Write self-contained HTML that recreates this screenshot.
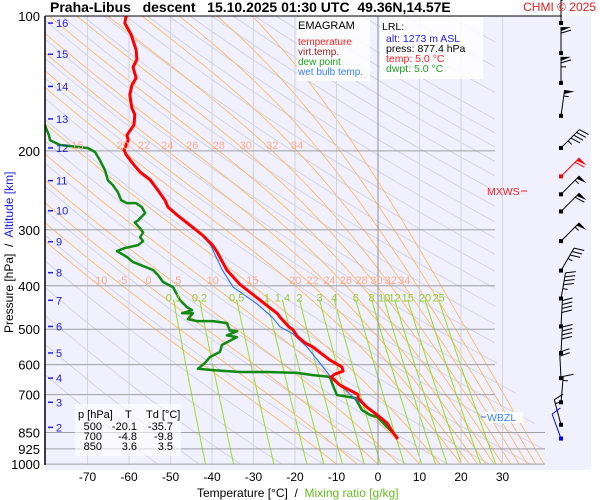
<!DOCTYPE html>
<html><head><meta charset="utf-8">
<style>
html,body{margin:0;padding:0;background:#fff;}
svg{display:block;font-family:"Liberation Sans",Arial,sans-serif;}
</style></head>
<body>
<svg id="chart" width="600" height="500" viewBox="0 0 600 500">
  <defs>
    <clipPath id="plotclip"><polygon points="45,16 495,16 495,360 545,440 545,465 45,465"/></clipPath>
    <clipPath id="dataclip"><rect x="45" y="16" width="500" height="449"/></clipPath>
  </defs>
  <rect x="45" y="16" width="546" height="454" fill="#f0f0ff"/>
  <g id="grid"></g>
  <g id="lines"></g>
  <g id="barbs"></g>
  <g id="labels"></g>

  <text x="50" y="12" font-size="14" font-weight="bold" style="white-space:pre">Praha-Libus   descent   15.10.2025 01:30 UTC  49.36N,14.57E</text>
  <line x1="45" y1="16" x2="562" y2="16" stroke="#000" stroke-width="1"/>
  <text x="596" y="11" font-size="12" fill="#e02020" text-anchor="end">CHMI © 2025</text>
  <line x1="45" y1="16" x2="45" y2="465" stroke="#000" stroke-width="1.5"/>

  <g>
    <rect x="297" y="17" width="73" height="64" fill="#fff" fill-opacity="0.85"/>
    <text x="298" y="29" font-size="11">EMAGRAM</text>
    <text x="298" y="45" font-size="10" fill="#ff2020">temperature</text>
    <text x="298" y="55" font-size="10" fill="#a02020">virt.temp.</text>
    <text x="298" y="65" font-size="10" fill="#20a020">dew point</text>
    <text x="298" y="75" font-size="10" fill="#3a80ff">wet bulb temp.</text>
  </g>
  <g>
    <rect x="380" y="17" width="103" height="62" fill="#fff" fill-opacity="0.85"/>
    <text x="382" y="30" font-size="10.5">LRL:</text>
    <text x="386" y="42" font-size="10.5" fill="#2020e0">alt: 1273 m ASL</text>
    <text x="386" y="52" font-size="10.5" fill="#000">press: 877.4 hPa</text>
    <text x="386" y="62" font-size="10.5" fill="#ff2020">temp: 5.0 °C</text>
    <text x="386" y="72" font-size="10.5" fill="#20a020">dwpt: 5.0 °C</text>
  </g>
  <g>
    <rect x="75" y="404" width="106" height="52" fill="#fff" fill-opacity="0.6"/>
    <text x="78" y="418" font-size="11">p [hPa]</text>
    <text x="125" y="418" font-size="11">T</text>
    <text x="146" y="418" font-size="11">Td [°C]</text>
    <g font-size="11" text-anchor="end">
      <text x="102" y="430">500</text><text x="137" y="430">-20.1</text><text x="173" y="430">-35.7</text>
      <text x="102" y="440">700</text><text x="137" y="440">-4.8</text><text x="173" y="440">-9.8</text>
      <text x="102" y="450">850</text><text x="137" y="450">3.6</text><text x="173" y="450">3.5</text>
    </g>
  </g>
  <g>
    <text x="487" y="195" font-size="10.5" fill="#ff2020">MXWS</text>
    <line x1="521" y1="191" x2="527" y2="191" stroke="#ff2020" stroke-width="1"/>
  </g>
  <g>
    <rect x="485" y="412" width="38" height="11" fill="#fff"/>
    <line x1="481" y1="417" x2="486" y2="417" stroke="#3a80ff"/>
    <text x="487" y="421" font-size="10.5" fill="#3a80ff">WBZL</text>
  </g>

  <text x="197" y="497" font-size="12" style="white-space:pre">Temperature [°C]  /  <tspan fill="#66bb22">Mixing ratio [g/kg]</tspan></text>
  <text transform="translate(13,333) rotate(-90)" font-size="12" style="white-space:pre">Pressure [hPa]  /  <tspan fill="#2020e0">Altitude [km]</tspan></text>
</svg>
<script>
// ---------- data ----------
const tempP = [100,103.7,110,119,125,130,137.5,142.6,150,160.5,166,175,184.5,189,199,204,215,223,232,245,258,267,279,293,309,325,336,369,397,461,470,494,500,518,537,548,586,607,620,630,639,666,690,700,712,746,777,810,850,879];
const tempT = [-60.7,-61,-59.5,-58.3,-58.1,-59,-58.3,-59.3,-59.8,-59.3,-58.6,-58.8,-60.5,-60.2,-61.2,-60.7,-58.8,-57.3,-54.9,-53,-51.3,-50.6,-48.2,-45.3,-42.2,-39.8,-38.8,-36.4,-33.3,-24.3,-23.6,-21.5,-20.6,-19.5,-17.5,-15.7,-11.6,-8.7,-8.4,-10.4,-11.3,-9.2,-6,-4.8,-4.8,-2.7,-0.2,2.2,3.6,4.8];
const dewP = [170,176,184.5,189.3,194,197.1,201.1,209.8,220.6,232.4,238.5,247,257.6,261.5,261.5,267.1,275.2,285.8,288.8,297.9,304.1,311.8,318.1,324.6,329.6,334.7,345.1,354.1,368.9,378.4,392.4,402.7,430.8,446.6,453.5,460.6,460.6,474.8,479.6,479.6,484.6,503.3,505.4,516.3,520.7,542,562,577,595,613,617,623,623,626,633,639,670,701,712,757,777,785,848,870];
const dewT = [-82,-80.2,-79.3,-79,-76.6,-69.9,-68.2,-67,-65.8,-65.1,-63.9,-62.7,-61.9,-60.5,-58.3,-56.9,-56.1,-57.8,-58.6,-57.3,-56.6,-57.3,-56.6,-57.8,-61,-62.9,-60.5,-59,-54.2,-53,-51.8,-49.4,-47.7,-46,-44.8,-47.2,-44.6,-45.8,-43.6,-39.8,-36.4,-35.7,-34,-36.4,-34,-37.6,-38.1,-40.5,-41.7,-43.4,-39.8,-33.3,-26.7,-19.5,-15.7,-11.6,-10.8,-9.9,-5.5,-3.9,-1.9,-0.2,3.4,4.6];
const wbP = [100,103.7,110,119,125,130,137.5,142.6,150,160.5,166,175,184.5,189,199,204,215,223,232,245,258,267,279,293,309,325,336,369,403,440,470,494,512,548,595,636,708,746,777,810,850,879];
const wbT = [-60.7,-61,-59.5,-58.3,-58.1,-59,-58.3,-59.3,-59.8,-59.3,-58.6,-58.8,-60.5,-60.2,-61.2,-60.7,-58.8,-57.3,-54.9,-53,-51.3,-50.6,-48.2,-45.4,-42.4,-40.3,-39.6,-37.5,-34.9,-29,-25.5,-23.6,-20.5,-17.1,-14,-11.6,-6,-2.8,-0.3,2.1,3.5,4.7];
const pTicks = [100,200,300,400,500,600,700,850,925,1000];
const tTicks = [-70,-60,-50,-40,-30,-20,-10,0,10,20,30];
const altKm = [16,15,14,13,12,11,10,9,8,7,6,5,4,3,2];
const altP = [103.7,121.7,143.6,169.7,197,233,272,319,374,431,493,565,643,728,828];
const moistVals = [-10,-5,0,5,10,15,20,22,24,26,28,30,32,34,36,38,40];
const moistLbl400 = [-10,-5,0,5,10,15,20,22,24,26,28,30,32,34];
const moistLbl200 = [15,20,22,24,26,28,30,32,34];
const mixVals = [0.1,0.2,0.5,1,1.4,2,3,4,6,8,10,12,15,20,25];
const dryTheta = [220,230,240,250,260,270,280,290,300,310,320,330,340,350,360,370,380,390,400,410,420,430,440,450,460,470,480,490,500,520,540,560];
const barbP = [103.7,121,141,167,197,228,250,273,318,370,427,493,565,643,728,817,877];
const barbAng = [0,0,0,8,45,45,45,45,45,30,10,3,3,-3,5,-15,-20];
const barbSpd = [50,60,65,55,45,60,55,60,55,35,45,40,40,20,15,15,10];

function X(t){return 378 + t*4.15;}
function Y(p){return 16 + 194.6*Math.log(p/100);}
const NS="http://www.w3.org/2000/svg";
function mk(tag,attrs,parent){const e=document.createElementNS(NS,tag);for(const k in attrs)e.setAttribute(k,attrs[k]);parent.appendChild(e);return e;}
const grid=document.getElementById('grid');
const lines=document.getElementById('lines');
const labels=document.getElementById('labels');
const barbs=document.getElementById('barbs');
const gclip=mk('g',{'clip-path':'url(#plotclip)'},grid);

for(const th of dryTheta){
  let d='';for(let p=1000;p>=100;p-=10){const t=th*Math.pow(p/1000,0.2857)-273.15;d+=(d?'L':'M')+X(t).toFixed(1)+','+Y(p).toFixed(1);}
  const e=mk('path',{d:d,fill:'none',stroke:'#cfcfd8','stroke-width':0.8},gclip);
  
  
}
function dTdp(p,T){const Tc=T-273.15;const es=6.112*Math.exp(17.67*Tc/(Tc+243.5));const rs=0.622*es/(p-es);
  return (287*T+2.5e6*rs)/(p*(1004+2.5e6*2.5e6*rs*0.622/(287*T*T)));}
function moistT(tw,pt){let T=tw+273.15;let p=1000;const res=[];while(p>=pt-0.01){res.push([p,T-273.15]);const h=-2;T+=dTdp(p+h/2,T+dTdp(p,T)*h/2)*h;p+=h;}return res;}
const moistCache={};
for(const tw of moistVals){
  const pts=moistT(tw,100);moistCache[tw]=pts;
  const d=pts.map((q,i)=>(i?'L':'M')+X(q[1]).toFixed(1)+','+Y(q[0]).toFixed(1)).join('');
  const e=mk('path',{d:d,fill:'none',stroke:'#ffb450','stroke-width':0.8},gclip);
  
  
}
function tAt(tw,p){const pts=moistCache[tw];let best=pts[0];for(const q of pts){if(Math.abs(q[0]-p)<Math.abs(best[0]-p))best=q;}return best[1];}
function tdMix(w,p){const e=w*p/(622+w);const x=Math.log(e/6.112);return 243.5*x/(17.67-x);}
for(const w of mixVals){
  let d='';for(let p=430;p<=1000;p+=10){d+=(d?'L':'M')+X(tdMix(w,p)).toFixed(1)+','+Y(p).toFixed(1);}
  const e=mk('path',{d:d,fill:'none',stroke:'#99dd22','stroke-width':1},gclip);
  
  
  const l=mk('text',{x:X(tdMix(w,430)),y:Y(420)+6,'font-size':11,fill:'#99cc33','text-anchor':'middle'},labels);
  l.textContent=String(w);
  
  
}
for(const t of tTicks){
  const e=mk('line',{x1:X(t),x2:X(t),y1:16,y2:465,stroke:t===0?'#909090':'#d4d4d4','stroke-width':1},grid);
  
  
  const l=mk('text',{x:X(t),y:481,'font-size':12,'text-anchor':'middle'},labels);
  l.textContent=String(t);
  
  
}
for(const p of pTicks){
  const xe=p>=850?545:495;
  if(p>100){
    const e=mk('line',{x1:45,x2:xe,y1:Y(p),y2:Y(p),stroke:'#a0a0a0','stroke-width':1},grid);
    
    
  }
  const l=mk('text',{x:40,y:Y(p)+5,'font-size':13,'text-anchor':'end'},labels);
  l.textContent=String(p);
  
  
}
for(const tw of moistLbl400){
  const l=mk('text',{x:X(tAt(tw,400)),y:Y(400)-2,'font-size':11,fill:'#ffaa88','text-anchor':'middle'},labels);
  l.textContent=String(tw);
  
  
}
for(const tw of moistLbl200){
  const l=mk('text',{x:X(tAt(tw,200)),y:Y(200)-2,'font-size':11,fill:'#ffaa88','text-anchor':'middle'},labels);
  l.textContent=String(tw);
  
  
}
altKm.forEach((k,i)=>{
  const y=Y(altP[i]);
  const t=mk('line',{x1:48,x2:53,y1:y,y2:y,stroke:'#2020e0','stroke-width':1.5},labels);
  
  
  const l=mk('text',{x:56,y:y+4,'font-size':11,fill:'#2020e0'},labels);
  l.textContent=String(k);
  
  
});
const dclip=mk('g',{'clip-path':'url(#dataclip)'},lines);
function series(P,T,color,w,name){
  const d=P.map((p,i)=>(i?'L':'M')+X(T[i]).toFixed(1)+','+Y(p).toFixed(1)).join('');
  const e=mk('path',{d:d,fill:'none',stroke:color,'stroke-width':w,'stroke-linejoin':'round'},dclip);
  
  
}
series(dewP,dewT,'#108a10',2.5,'dew-point-line');
series(wbP,wbT,'#2a70ff',1.1,'wet-bulb-line');
series(tempP,tempT,'#ff0000',3,'temperature-line');

barbP.forEach((p,i)=>{
  const y=Y(p),x=561,a=barbAng[i]*Math.PI/180,L=26;
  const col=i===5?'#ff0000':(i===barbP.length-1?'#0000ff':'#000');
  const ex=x+Math.sin(a)*L, ey=y-Math.cos(a)*L;
  const g=mk('g',{},barbs);
  
  
  mk('line',{x1:x,y1:y,x2:ex,y2:ey,stroke:col,'stroke-width':1},g);
  mk('rect',{x:x-2,y:y-2,width:4,height:4,fill:col},g);
  let s=barbSpd[i],k=0;
  const ux=Math.sin(a),uy=-Math.cos(a),px=Math.cos(a),py=Math.sin(a);
  while(s>=50){const bx=ex-ux*k*4,by=ey-uy*k*4;
    mk('polygon',{points:`${bx},${by} ${bx+px*10},${by+py*10} ${bx-ux*4},${by-uy*4}`,fill:col},g);s-=50;k+=1.5;}
  while(s>=10){const bx=ex-ux*k*4,by=ey-uy*k*4;
    mk('line',{x1:bx,y1:by,x2:bx+px*10+ux*3,y2:by+py*10+uy*3,stroke:col,'stroke-width':1},g);s-=10;k+=1;}
  if(s>=5){const bx=ex-ux*k*4,by=ey-uy*k*4;
    mk('line',{x1:bx,y1:by,x2:bx+px*5,y2:by+py*5,stroke:col,'stroke-width':1},g);}
});
</script>
</body></html>
